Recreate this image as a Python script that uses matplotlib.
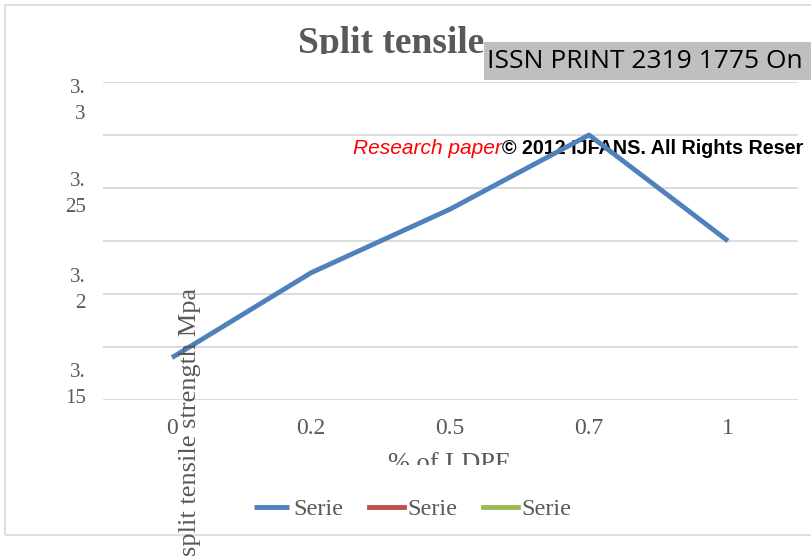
import matplotlib
matplotlib.use("Agg")
import matplotlib.pyplot as plt
import matplotlib.transforms as mtransforms
from matplotlib.patches import Rectangle

# data
ldpe_pct = ['0', '0.2', '0.5', '0.7', '1']
split_tensile = [3.170, 3.210, 3.240, 3.275, 3.225]
serie2 = []
serie3 = []

y_ticks = [3.15, 3.2, 3.25, 3.3]
y_ticklabels = ['3.\n15', '3.\n2', '3.\n25', '3.\n3']

grey = '#595959'
serif = 'Liberation Serif'

fig = plt.figure(figsize=(8.11, 5.6), dpi=100)
W, H = 811.0, 560.0

# outer chart border
fig.patches.append(Rectangle((5 / W, 25 / H), 1.0, 530 / H, transform=fig.transFigure,
                             fill=False, edgecolor='#d9d9d9', linewidth=1.2, zorder=0))

ax = fig.add_axes([102.5 / W, 160 / H, 695 / W, 318 / H])
x = list(range(len(ldpe_pct)))
ax.plot(x, split_tensile, color='#4f81bd', linewidth=3.5, solid_capstyle='butt', zorder=3, label='Serie')
ax.plot(x[:len(serie2)], serie2, color='#c0504d', linewidth=3.5, label='Serie')
ax.plot(x[:len(serie3)], serie3, color='#9bbb59', linewidth=3.5, label='Serie')

ax.set_xlim(-0.5, 4.5)
ax.set_ylim(3.15, 3.3)
ax.set_xticks(x)
ax.set_xticklabels(ldpe_pct, fontfamily=serif, fontsize=17, color=grey)
ax.set_yticks(y_ticks)
ax.set_yticklabels(y_ticklabels, fontfamily=serif, fontsize=15, color=grey,
                   ha='right', multialignment='right', linespacing=1.5)
ax.set_yticks([3.175, 3.225, 3.275], minor=True)
ax.tick_params(axis='both', which='both', length=0)
ax.tick_params(axis='x', pad=13)
ax.tick_params(axis='y', pad=12)
ax.grid(axis='y', which='both', color='#d9d9d9', linewidth=1.3)
ax.set_axisbelow(True)
for s in ax.spines.values():
    s.set_visible(False)

# nudge the y labels a little like the original rendering
offsets = {3.15: -20, 3.2: -9, 3.25: 1, 3.3: 14}
for tick, lab in zip(y_ticks, ax.get_yticklabels()):
    dy = -offsets[tick] / 100.0
    lab.set_transform(lab.get_transform() + mtransforms.ScaledTranslation(0, dy, fig.dpi_scale_trans))

# title (descenders clipped in the original)
fig.text(391 / W, (H - 53) / H, 'Split tensile', fontfamily=serif, fontweight='bold',
         fontsize=27, color=grey, ha='center', va='baseline')
fig.patches.append(Rectangle((290 / W, (H - 72) / H), 194 / W, 18.5 / H, transform=fig.transFigure,
                             facecolor='white', edgecolor='none', zorder=10))

# axis titles
fig.text(190 / W, (H - 422) / H, 'split tensile strength Mpa', fontfamily=serif, fontsize=19,
         color=grey, rotation=90, ha='center', va='center', zorder=5)
fig.text(449 / W, (H - 470) / H, '% of LDPE', fontfamily=serif, fontsize=19,
         color=grey, ha='center', va='baseline')
fig.patches.append(Rectangle((370 / W, (H - 490) / H), 160 / W, 25 / H, transform=fig.transFigure,
                             facecolor='white', edgecolor='none', zorder=10))

# legend
ax.legend(loc='center', bbox_to_anchor=(413 / W, (H - 509) / H), bbox_transform=fig.transFigure,
          ncol=3, frameon=False, prop={'family': serif, 'size': 17.5}, labelcolor=grey,
          handlelength=1.45, handletextpad=0.15, columnspacing=1.05)

# overlaid header text from the page
fig.text(487 / W, (H - 62) / H, 'ISSN PRINT 2319 1775 On', fontfamily='Open Sans',
         fontsize=19, color='black', ha='left', va='center', zorder=12)
fig.patches.append(Rectangle((484 / W, (H - 80) / H), 1.0, 38 / H, transform=fig.transFigure,
                             facecolor='#bfbfbf', edgecolor='none', zorder=11))
t1 = fig.text(353 / W, (H - 148) / H, 'Research paper', fontfamily='Liberation Sans', fontstyle='italic',
              fontsize=15, color='red', ha='left', va='center', zorder=12)
# black part sits under the data line, as in the original
ax.annotate('\u00a9 2012 IJFANS. All Rights Reser', xy=(1, 0), xycoords=t1, xytext=(0, 0),
            textcoords='offset points', fontfamily='Liberation Sans', fontweight='bold',
            fontsize=14.2, color='black', ha='left', va='bottom', zorder=2.5, annotation_clip=False)

fig.savefig('out.png', dpi=100)
